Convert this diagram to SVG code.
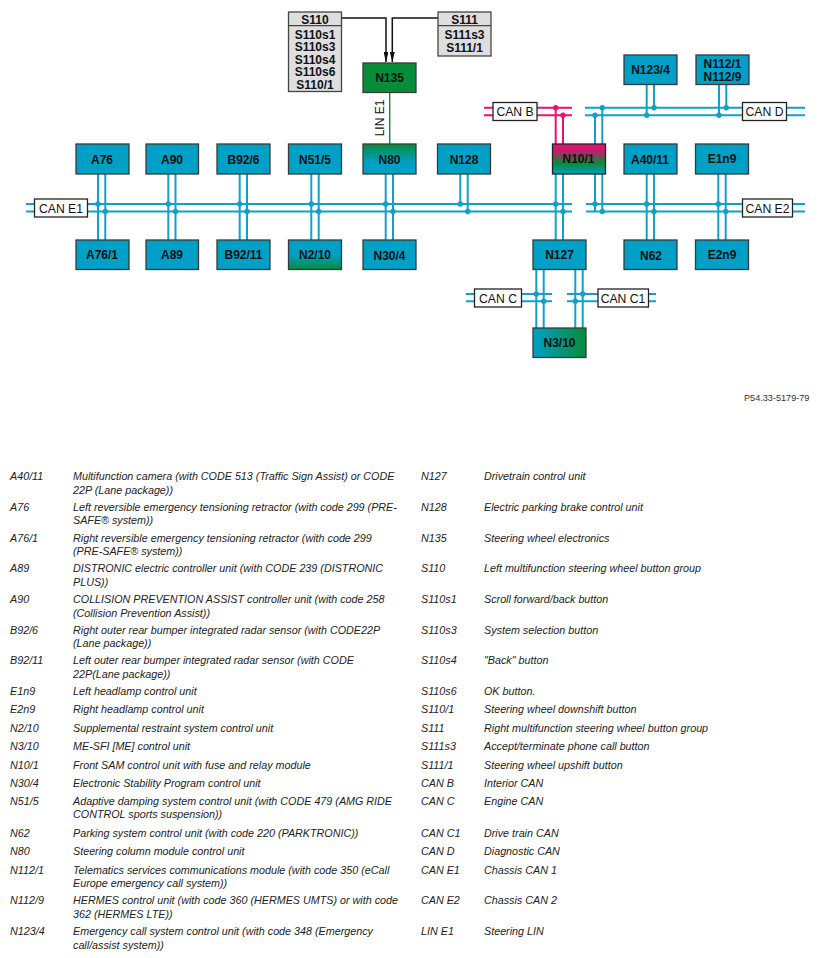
<svg xmlns="http://www.w3.org/2000/svg" width="818" height="958" viewBox="0 0 818 958">
<style>
text{font-family:"Liberation Sans",Arial,sans-serif;fill:#111}
.box{stroke:#3a3a3a;stroke-width:1.3;fill:#009fc6}
.gray{stroke:#444;stroke-width:1.3;fill:#dedede}
.t{font-weight:bold;font-size:12px;text-anchor:middle}
.lab{fill:#fff;stroke:#222;stroke-width:1.3}
.lt{font-size:12.2px;text-anchor:middle}
.b{fill:none;stroke:#14a0c6;stroke-width:2}
.p{fill:none;stroke:#e6136f;stroke-width:2}
.d{fill:#14a0c6}.dp{fill:#e6136f}
.k{fill:none;stroke:#111;stroke-width:1.5}
.l{font-size:10.75px;font-style:italic;fill:#222}
</style>
<defs>
<marker id="arr" viewBox="0 0 10 5" refX="10" refY="2.5" markerWidth="6.6" markerHeight="3.3" markerUnits="strokeWidth" orient="auto"><path d="M0 0L10 2.5L0 5Z" fill="#111"/></marker>
<linearGradient id="gN80" x1="0" y1="0" x2="0" y2="1"><stop offset="0" stop-color="#078c38"/><stop offset=".6" stop-color="#009fc6"/></linearGradient>
<linearGradient id="gN2" x1="0" y1="0" x2="0" y2="1"><stop offset=".5" stop-color="#009fc6"/><stop offset="1" stop-color="#078c38"/></linearGradient>
<linearGradient id="gN3" x1="0" y1="0" x2="1" y2="0"><stop offset="0" stop-color="#009fc6"/><stop offset="1" stop-color="#078c38"/></linearGradient>
<linearGradient id="gN10" x1="0" y1="0" x2="0" y2="1"><stop offset="0" stop-color="#e6136f"/><stop offset=".2" stop-color="#d0146f"/><stop offset=".65" stop-color="#078c38"/><stop offset="1" stop-color="#009fc6"/></linearGradient>
</defs>

<g id="connectors">
<path class="b" d="M26 204H572M26 211.5H572M586 204H805M586 211.5H805"/>
<path class="b" d="M585 107.7H805M585 115.3H805"/>
<path class="p" d="M484 107.7H572M484 115.3H572"/>
<path class="b" d="M466 294H552M466 301.3H552M567 294H656M567 301.3H656"/>
<path class="b" d="M98 174V240M105.3 174V240M168.3 174V240M175.5 174V240M239.7 174V240M247 174V240M311.3 174V240M318.7 174V240M385.7 174V240M393 174V240M460.3 174V204M467.7 174V211.5M555.7 174V240M563 174V240M595 174V211.5M602.3 174V211.5M646.7 174V240M654 174V240M718.3 174V240M725.7 174V240"/>
<path class="b" d="M595 115.3V144M602.3 107.7V144M646.7 84V115.3M654 84V107.7M719 84V115.3M726.3 84V107.7"/>
<path class="p" d="M555.7 107.7V144M563 115.3V144"/>
<path class="b" d="M536.3 269V328M543.7 269V328M575.3 269V328M582.7 269V328"/>
<g class="d">
<circle cx="98" cy="204" r="2.7"/><circle cx="105.3" cy="211.5" r="2.7"/>
<circle cx="168.3" cy="204" r="2.7"/><circle cx="175.5" cy="211.5" r="2.7"/>
<circle cx="239.7" cy="204" r="2.7"/><circle cx="247" cy="211.5" r="2.7"/>
<circle cx="311.3" cy="204" r="2.7"/><circle cx="318.7" cy="211.5" r="2.7"/>
<circle cx="385.7" cy="204" r="2.7"/><circle cx="393" cy="211.5" r="2.7"/>
<circle cx="460.3" cy="204" r="2.7"/><circle cx="467.7" cy="211.5" r="2.7"/>
<circle cx="555.7" cy="204" r="2.7"/><circle cx="563" cy="211.5" r="2.7"/>
<circle cx="595" cy="204" r="2.7"/><circle cx="602.3" cy="211.5" r="2.7"/>
<circle cx="646.7" cy="204" r="2.7"/><circle cx="654" cy="211.5" r="2.7"/>
<circle cx="718.3" cy="204" r="2.7"/><circle cx="725.7" cy="211.5" r="2.7"/>
<circle cx="602.3" cy="107.7" r="2.7"/><circle cx="595" cy="115.3" r="2.7"/>
<circle cx="654" cy="107.7" r="2.7"/><circle cx="646.7" cy="115.3" r="2.7"/>
<circle cx="726.3" cy="107.7" r="2.7"/><circle cx="719" cy="115.3" r="2.7"/>
<circle cx="536.3" cy="294" r="2.7"/><circle cx="543.7" cy="301.3" r="2.7"/>
<circle cx="582.7" cy="294" r="2.7"/><circle cx="575.3" cy="301.3" r="2.7"/>
</g>
<g class="dp"><circle cx="555.7" cy="107.7" r="2.7"/><circle cx="563" cy="115.3" r="2.7"/></g>
<path d="M389.7 92V144" fill="none" stroke="#078c38" stroke-width="1.4"/>
<path class="k" d="M342 18H386V62" marker-end="url(#arr)"/>
<path class="k" d="M438 18H392.3V62" marker-end="url(#arr)"/>
</g>

<g id="S110"><rect class="gray" x="288.5" y="12" width="53" height="79.5"/><path d="M288.5 25.7H341.5" stroke="#444" stroke-width="1.3"/><text class="t" x="315" y="23.5">S110</text><text class="t"><tspan x="315" y="38.5">S110s1</tspan><tspan x="315" y="51">S110s3</tspan><tspan x="315" y="63.5">S110s4</tspan><tspan x="315" y="76">S110s6</tspan><tspan x="315" y="88.5">S110/1</tspan></text></g>
<g id="S111"><rect class="gray" x="438" y="12" width="53" height="44"/><path d="M438 25.7H491" stroke="#444" stroke-width="1.3"/><text class="t" x="464.5" y="24">S111</text><text class="t"><tspan x="464.5" y="38.5">S111s3</tspan><tspan x="464.5" y="51.5">S111/1</tspan></text></g>
<g id="N135"><rect class="box" style="fill:#078c38" x="363" y="63" width="53" height="29.5"/><text class="t" x="389.5" y="82">N135</text></g>
<g id="A76"><rect class="box" x="76" y="144" width="53" height="30"/><text class="t" x="102" y="164">A76</text></g>
<g id="A90"><rect class="box" x="146" y="144" width="52.5" height="30"/><text class="t" x="172" y="164">A90</text></g>
<g id="B92-6"><rect class="box" x="217" y="144" width="53" height="30"/><text class="t" x="243.5" y="164">B92/6</text></g>
<g id="N51-5"><rect class="box" x="288.5" y="144" width="53" height="30"/><text class="t" x="315" y="164">N51/5</text></g>
<g id="N80"><rect class="box" style="fill:url(#gN80)" x="363" y="144" width="53" height="30"/><text class="t" x="389.5" y="164">N80</text></g>
<g id="N128"><rect class="box" x="437.5" y="144" width="53" height="30"/><text class="t" x="464" y="164">N128</text></g>
<g id="N10-1"><rect class="box" style="fill:url(#gN10);stroke:#222" x="552.5" y="144" width="53" height="30"/><text class="t" x="578.5" y="163">N10/1</text></g>
<g id="A40-11"><rect class="box" x="624" y="144" width="53" height="30"/><text class="t" x="650" y="164">A40/11</text></g>
<g id="E1n9"><rect class="box" x="695.5" y="144" width="53" height="30"/><text class="t" x="722" y="163">E1n9</text></g>
<g id="N123-4"><rect class="box" x="624" y="55" width="53" height="29.5"/><text class="t" x="650.5" y="74">N123/4</text></g>
<g id="N112"><rect class="box" x="696" y="55" width="53" height="29.5"/><text class="t"><tspan x="722.5" y="68">N112/1</tspan><tspan x="722.5" y="81">N112/9</tspan></text></g>
<g id="A76-1"><rect class="box" x="76" y="240" width="53" height="29.5"/><text class="t" x="102" y="259">A76/1</text></g>
<g id="A89"><rect class="box" x="146" y="240" width="52.5" height="29.5"/><text class="t" x="172" y="259">A89</text></g>
<g id="B92-11"><rect class="box" x="217" y="240" width="53" height="29.5"/><text class="t" x="243.5" y="259">B92/11</text></g>
<g id="N2-10"><rect class="box" style="fill:url(#gN2)" x="288.5" y="240" width="53" height="29.5"/><text class="t" x="315" y="259">N2/10</text></g>
<g id="N30-4"><rect class="box" x="363" y="240" width="53" height="29.5"/><text class="t" x="389.5" y="260">N30/4</text></g>
<g id="N127"><rect class="box" x="533" y="240" width="53" height="29.5"/><text class="t" x="559.5" y="259">N127</text></g>
<g id="N62"><rect class="box" x="624" y="240" width="53" height="29.5"/><text class="t" x="651" y="260">N62</text></g>
<g id="E2n9"><rect class="box" x="695.5" y="240" width="53" height="29.5"/><text class="t" x="722" y="259">E2n9</text></g>
<g id="N3-10"><rect class="box" style="fill:url(#gN3)" x="533" y="328" width="53" height="29.5"/><text class="t" x="559.5" y="347">N3/10</text></g>

<g id="CAN-B"><rect class="lab" x="493" y="102.5" width="44" height="18"/><text class="lt" x="515" y="116">CAN B</text></g>
<g id="CAN-D"><rect class="lab" x="742.5" y="102.5" width="44" height="18"/><text class="lt" x="764.5" y="116">CAN D</text></g>
<g id="CAN-E1"><rect class="lab" x="34.5" y="199" width="53" height="18"/><text class="lt" x="61" y="212.5">CAN E1</text></g>
<g id="CAN-E2"><rect class="lab" x="742.5" y="199" width="50" height="18"/><text class="lt" x="767.5" y="212.5">CAN E2</text></g>
<g id="CAN-C"><rect class="lab" x="474.5" y="289" width="47" height="18"/><text class="lt" x="498" y="302.5">CAN C</text></g>
<g id="CAN-C1"><rect class="lab" x="598" y="289" width="50.5" height="18"/><text class="lt" x="623" y="302.5">CAN C1</text></g>
<text x="384" y="118" font-size="12" text-anchor="middle" transform="rotate(-90 384 118)">LIN E1</text>
<text x="744" y="401" font-size="9.15" style="fill:#333">P54.33-5179-79</text>

<g id="legend-left" class="legend">
<text class="l" x="10" y="480">A40/11</text><text class="l" x="73" y="480"><tspan x="73" y="480">Multifunction camera (with CODE 513 (Traffic Sign Assist) or CODE</tspan><tspan x="73" y="493.5">22P (Lane package))</tspan></text>
<text class="l" x="10" y="511">A76</text><text class="l"><tspan x="73" y="511">Left reversible emergency tensioning retractor (with code 299 (PRE-</tspan><tspan x="73" y="524">SAFE® system))</tspan></text>
<text class="l" x="10" y="541.5">A76/1</text><text class="l"><tspan x="73" y="541.5">Right reversible emergency tensioning retractor (with code 299</tspan><tspan x="73" y="555">(PRE-SAFE® system))</tspan></text>
<text class="l" x="10" y="572">A89</text><text class="l"><tspan x="73" y="572">DISTRONIC electric controller unit (with CODE 239 (DISTRONIC</tspan><tspan x="73" y="585.5">PLUS))</tspan></text>
<text class="l" x="10" y="603">A90</text><text class="l"><tspan x="73" y="603">COLLISION PREVENTION ASSIST controller unit (with code 258</tspan><tspan x="73" y="616.5">(Collision Prevention Assist))</tspan></text>
<text class="l" x="10" y="633.5">B92/6</text><text class="l"><tspan x="73" y="633.5">Right outer rear bumper integrated radar sensor (with CODE22P</tspan><tspan x="73" y="647">(Lane package))</tspan></text>
<text class="l" x="10" y="664">B92/11</text><text class="l"><tspan x="73" y="664">Left outer rear bumper integrated radar sensor (with CODE</tspan><tspan x="73" y="677.5">22P(Lane package))</tspan></text>
<text class="l" x="10" y="695">E1n9</text><text class="l" x="73" y="695">Left headlamp control unit</text>
<text class="l" x="10" y="713">E2n9</text><text class="l" x="73" y="713">Right headlamp control unit</text>
<text class="l" x="10" y="732">N2/10</text><text class="l" x="73" y="732">Supplemental restraint system control unit</text>
<text class="l" x="10" y="750">N3/10</text><text class="l" x="73" y="750">ME-SFI [ME] control unit</text>
<text class="l" x="10" y="769">N10/1</text><text class="l" x="73" y="769">Front SAM control unit with fuse and relay module</text>
<text class="l" x="10" y="787">N30/4</text><text class="l" x="73" y="787">Electronic Stability Program control unit</text>
<text class="l" x="10" y="805">N51/5</text><text class="l"><tspan x="73" y="805">Adaptive damping system control unit (with CODE 479 (AMG RIDE</tspan><tspan x="73" y="818">CONTROL sports suspension))</tspan></text>
<text class="l" x="10" y="836.5">N62</text><text class="l" x="73" y="836.5">Parking system control unit (with code 220 (PARKTRONIC))</text>
<text class="l" x="10" y="855">N80</text><text class="l" x="73" y="855">Steering column module control unit</text>
<text class="l" x="10" y="873.5">N112/1</text><text class="l"><tspan x="73" y="873.5">Telematics services communications module (with code 350 (eCall</tspan><tspan x="73" y="887">Europe emergency call system))</tspan></text>
<text class="l" x="10" y="904">N112/9</text><text class="l"><tspan x="73" y="904">HERMES control unit (with code 360 (HERMES UMTS) or with code</tspan><tspan x="73" y="917.5">362 (HERMES LTE))</tspan></text>
<text class="l" x="10" y="935">N123/4</text><text class="l"><tspan x="73" y="935">Emergency call system control unit (with code 348 (Emergency</tspan><tspan x="73" y="948.5">call/assist system))</tspan></text>
</g>
<g id="legend-right" class="legend">
<text class="l" x="421" y="480">N127</text><text class="l" x="484" y="480">Drivetrain control unit</text>
<text class="l" x="421" y="511">N128</text><text class="l" x="484" y="511">Electric parking brake control unit</text>
<text class="l" x="421" y="541.5">N135</text><text class="l" x="484" y="541.5">Steering wheel electronics</text>
<text class="l" x="421" y="572">S110</text><text class="l" x="484" y="572">Left multifunction steering wheel button group</text>
<text class="l" x="421" y="603">S110s1</text><text class="l" x="484" y="603">Scroll forward/back button</text>
<text class="l" x="421" y="633.5">S110s3</text><text class="l" x="484" y="633.5">System selection button</text>
<text class="l" x="421" y="664">S110s4</text><text class="l" x="484" y="664">"Back" button</text>
<text class="l" x="421" y="695">S110s6</text><text class="l" x="484" y="695">OK button.</text>
<text class="l" x="421" y="713">S110/1</text><text class="l" x="484" y="713">Steering wheel downshift button</text>
<text class="l" x="421" y="732">S111</text><text class="l" x="484" y="732">Right multifunction steering wheel button group</text>
<text class="l" x="421" y="750">S111s3</text><text class="l" x="484" y="750">Accept/terminate phone call button</text>
<text class="l" x="421" y="769">S111/1</text><text class="l" x="484" y="769">Steering wheel upshift button</text>
<text class="l" x="421" y="787">CAN B</text><text class="l" x="484" y="787">Interior CAN</text>
<text class="l" x="421" y="805">CAN C</text><text class="l" x="484" y="805">Engine CAN</text>
<text class="l" x="421" y="836.5">CAN C1</text><text class="l" x="484" y="836.5">Drive train CAN</text>
<text class="l" x="421" y="855">CAN D</text><text class="l" x="484" y="855">Diagnostic CAN</text>
<text class="l" x="421" y="873.5">CAN E1</text><text class="l" x="484" y="873.5">Chassis CAN 1</text>
<text class="l" x="421" y="904">CAN E2</text><text class="l" x="484" y="904">Chassis CAN 2</text>
<text class="l" x="421" y="935">LIN E1</text><text class="l" x="484" y="935">Steering LIN</text>
</g>
</svg>
